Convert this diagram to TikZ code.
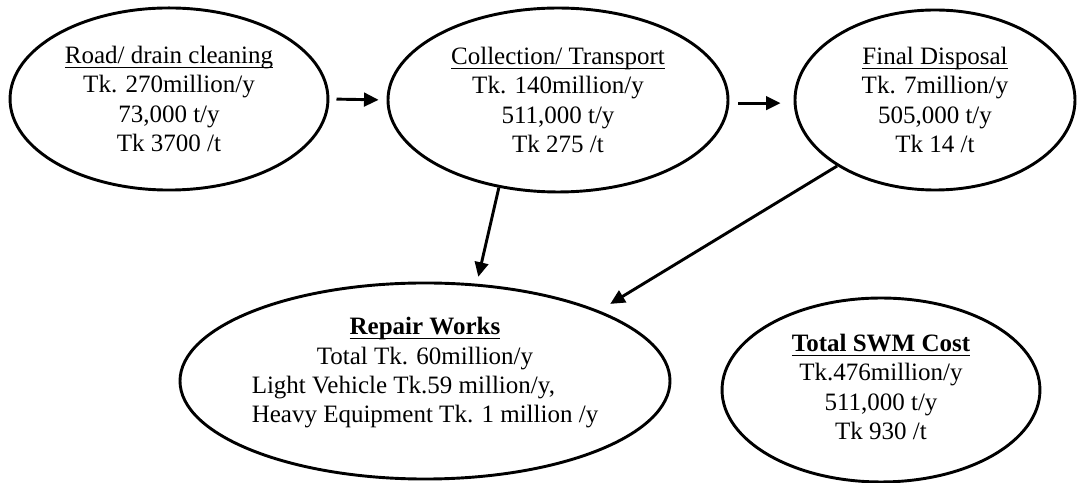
\documentclass[tikz,border=0pt]{standalone}
\usepackage{fontspec}
\setmainfont{Liberation Serif}
\usetikzlibrary{arrows.meta,shapes.geometric}
% underlined heading line that keeps the line spacing even
\newlength{\headwd}
\newcommand{\headline}[1]{\settowidth{\headwd}{#1}%
  \smash{\rlap{\rule[-2.1pt]{\headwd}{0.75pt}}}#1}
\tikzset{
  costnode/.style={
    ellipse, draw=black, line width=1.4pt,
    align=center, inner sep=0pt,
    font=\fontsize{12}{14}\selectfont
  },
  flow/.style={-{Triangle[length=7pt,width=6.5pt]}, line width=1.4pt}
}

\begin{document}
\begin{tikzpicture}[x=0.48pt, y=-0.48pt]

\useasboundingbox (0,0) rectangle (1082,483);

%--------------------------------------------------
% Upper chain of cost stages
%--------------------------------------------------
\node[costnode, minimum width=152.6pt, minimum height=87.4pt] (road) at (169,99)
{\headline{Road/ drain cleaning}\\ Tk. 270million/y\\ 73,000 t/y\\ Tk 3700 /t};

\node[costnode, minimum width=163.2pt, minimum height=88.3pt] (coll) at (558,100)
{\headline{Collection/ Transport}\\ Tk. 140million/y\\ 511,000 t/y\\ Tk 275 /t};

\node[costnode, minimum width=134.4pt, minimum height=86.4pt] (fin) at (935,100)
{\headline{Final Disposal}\\ Tk. 7million/y\\ 505,000 t/y\\ Tk 14 /t};

%--------------------------------------------------
% Lower row: repair works and total
%--------------------------------------------------
\node[costnode, text depth=10.5pt, minimum width=235.2pt, minimum height=94.1pt] (rep) at (425,381)
{\headline{\textbf{Repair Works}}\\ Total Tk. 60million/y\\
 \rlap{Light Vehicle Tk.59 million/y,}\phantom{Heavy Equipment Tk. 1 million /y}\\
 Heavy Equipment Tk. 1 million /y};

\node[costnode, text depth=3pt, minimum width=152.6pt, minimum height=88.3pt] (total) at (881,390)
{\headline{\textbf{Total SWM Cost}}\\ Tk.476million/y\\ 511,000 t/y\\ Tk 930 /t};

%--------------------------------------------------
% Arrows
%--------------------------------------------------
\draw[flow, shorten <=3.4pt, shorten >=3.8pt] (road.east) -- (coll.west);
\draw[flow, shorten <=4.3pt, shorten >=6.2pt] ([yshift=-1.5pt]coll.east) -- ([yshift=-1.5pt]fin.west);

\draw[flow, shorten >=3.4pt] (coll.236) -- (rep.62);
\draw[flow, shorten >=6.2pt] (fin.214) -- (rep.22);

\end{tikzpicture}
\end{document}
